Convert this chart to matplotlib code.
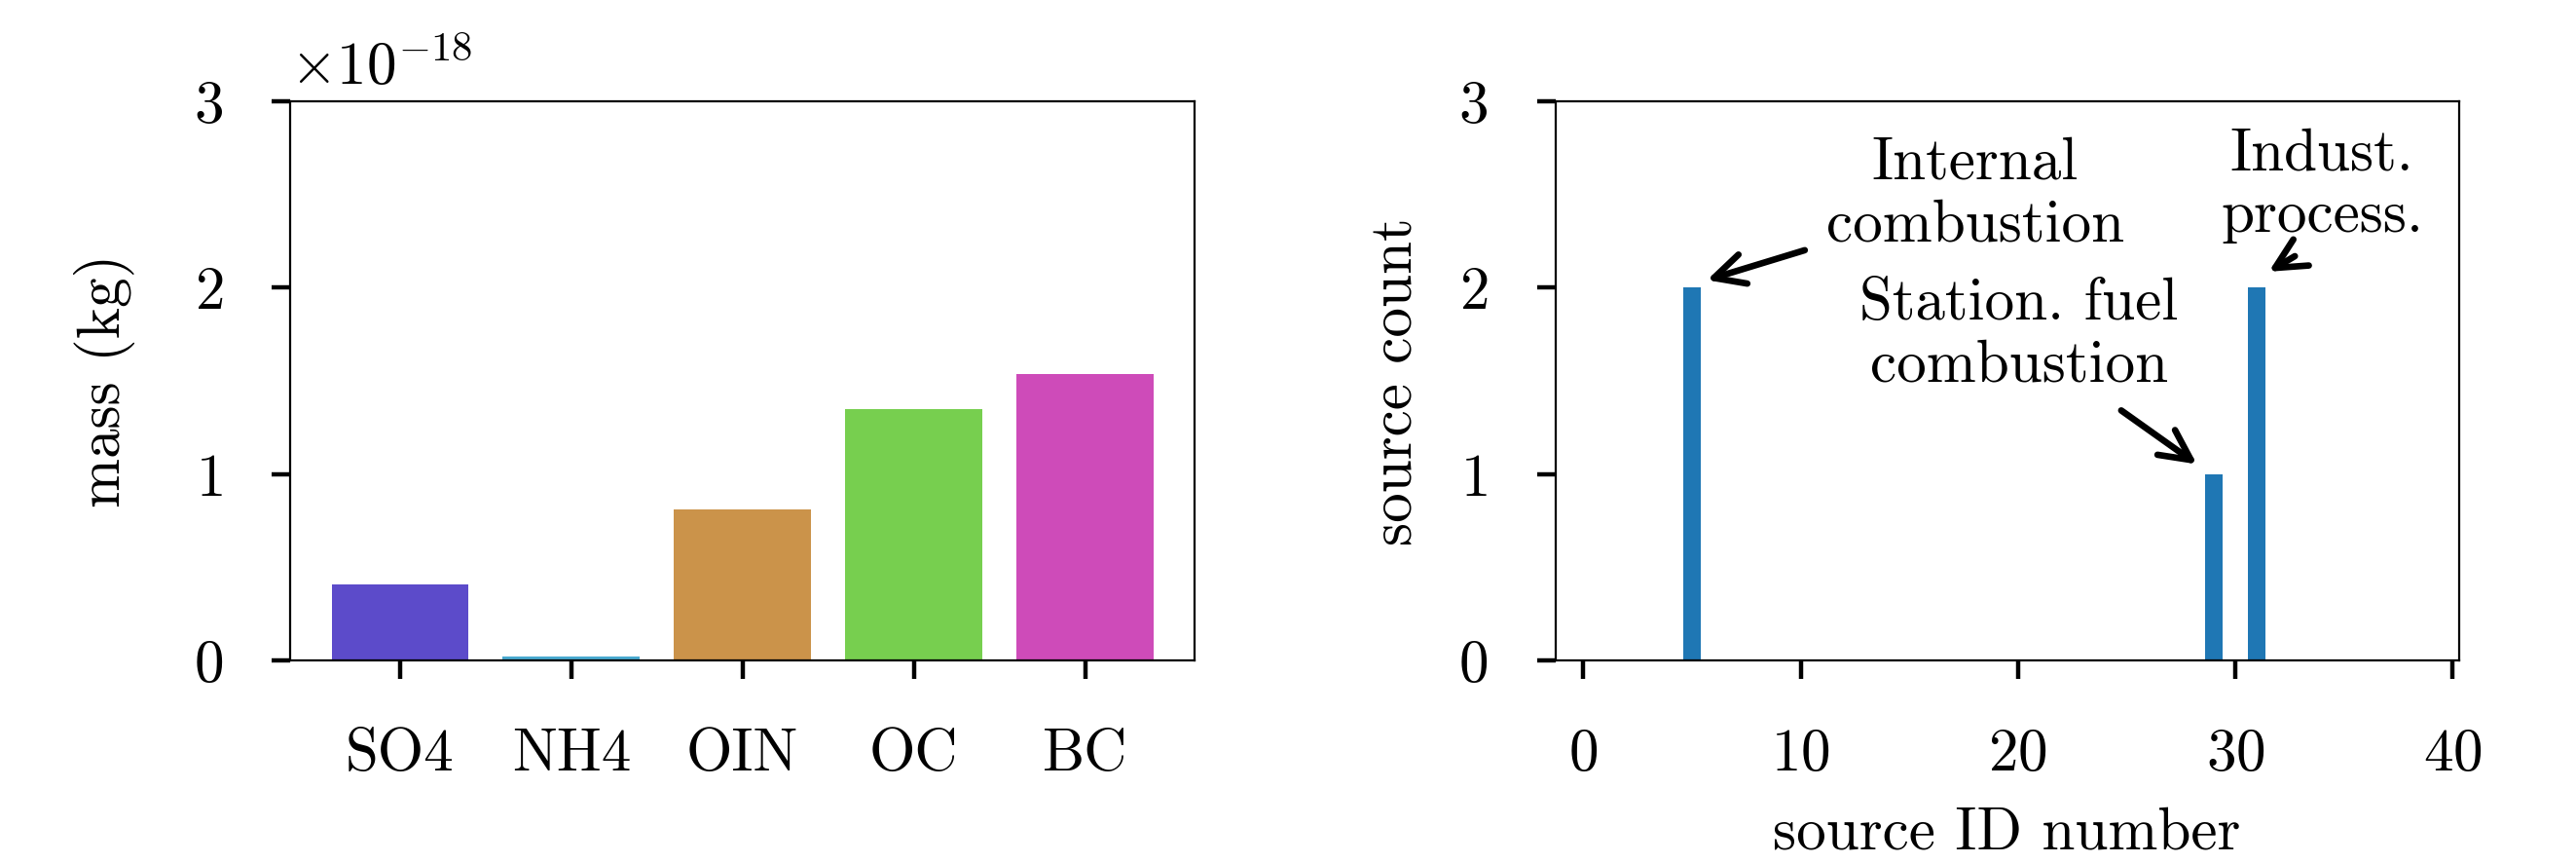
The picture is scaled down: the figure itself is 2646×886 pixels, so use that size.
import numpy as np
import matplotlib
matplotlib.use("Agg")
import matplotlib.pyplot as plt

plt.rcParams.update({
    "font.family": "serif",
    "font.serif": ["cmr10"],
    "mathtext.fontset": "cm",
    "axes.formatter.use_mathtext": True,
    "font.size": 11,
    "axes.linewidth": 0.4,
    "xtick.major.pad": 9,
    "ytick.major.pad": 9,
})

# left panel: mass per species
species = ["SO4", "NH4", "OIN", "OC", "BC"]
species_mass = [0.407e-18, 0.021e-18, 0.811e-18, 1.349e-18, 1.537e-18]
species_colors = ["#5c4bca", "#48a9cf", "#cb934a", "#77cf4f", "#ce4bb9"]

# right panel: number of sources per source ID
source_ids = list(range(1, 39))
source_counts = [0, 0, 0, 0, 2, 0, 0, 0, 0, 0,
                 0, 0, 0, 0, 0, 0, 0, 0, 0, 0,
                 0, 0, 0, 0, 0, 0, 0, 0, 1, 0,
                 2, 0, 0, 0, 0, 0, 0, 0]

source_labels = ["Internal\ncombustion", "Station. fuel\ncombustion", "Indust.\nprocess."]

fig = plt.figure(figsize=(2646.4 / 400, 886.4 / 400), dpi=400)

# 1. mass bars
ax1 = fig.add_axes([0.112736, 0.234424, 0.350983, 0.648194])
ax1.bar(range(len(species)), species_mass, color=species_colors)
ax1.set_xticks(range(len(species)), species)
ax1.set_ylim(0, 3e-18)
ax1.set_yticks([0, 1e-18, 2e-18, 3e-18])
ax1.set_ylabel("mass (kg)")
ax1.yaxis.set_label_coords(-0.172, 0.5)

# 2. source count bars
ax2 = fig.add_axes([0.603666, 0.234424, 0.350761, 0.648194])
ax2.bar(source_ids, source_counts, color="#1f77b4")
ax2.set_ylim(0, 3)
ax2.set_yticks([0, 1, 2, 3])
ax2.set_xticks([0, 10, 20, 30, 40])
ax2.set_xlabel("source ID number", labelpad=4.5)
ax2.set_ylabel("source count")
ax2.yaxis.set_label_coords(-0.145, 0.5)

arrow = dict(arrowstyle="->", lw=1.2, shrinkA=0, shrinkB=0, mutation_scale=14)

# text y is the baseline of the last line
ax2.text(18.03, 2.252, source_labels[0], ha="center", va="baseline")
ax2.annotate("", xy=(5.69, 2.04), xytext=(10.19, 2.20), arrowprops=arrow)

ax2.text(20.05, 1.497, source_labels[1], ha="center", va="baseline")
ax2.annotate("", xy=(28.23, 1.053), xytext=(24.75, 1.341), arrowprops=arrow)

ax2.text(33.98, 2.299, source_labels[2], ha="center", va="baseline")
ax2.annotate("", xy=(31.54, 2.085), xytext=(32.74, 2.168), arrowprops=arrow)

fig.savefig("out.png", dpi=400)
